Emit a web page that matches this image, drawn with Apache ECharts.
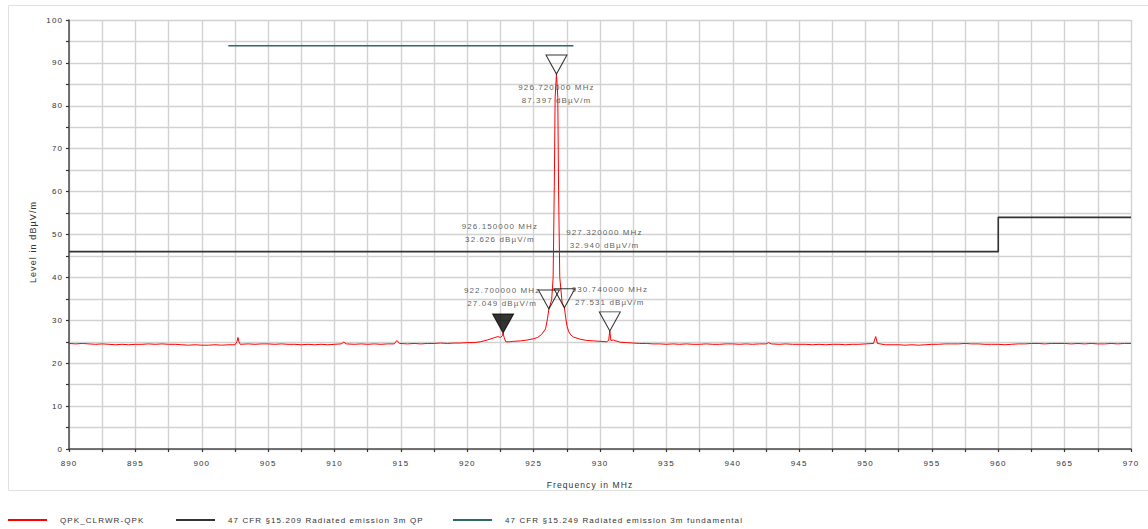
<!DOCTYPE html>
<html>
<head>
<meta charset="utf-8">
<script src="https://cdn.jsdelivr.net/npm/echarts@6/dist/echarts.min.js"></script>
<style>
html,body{margin:0;padding:0;background:#fff;}
#chart{width:1148px;height:529px;}
#chart text{letter-spacing:1.1px;}
</style>
</head>
<body>
<div id="chart"></div>
<script>
// ---- data ----
const traceFreq = [
890.0,890.5,891.0,891.5,892.0,892.5,893.0,893.5,894.0,894.5,895.0,895.5,896.0,896.5,897.0,897.5,898.0,898.5,899.0,899.5,
900.0,900.5,901.0,901.5,902.0,902.5,902.65,902.73,902.8,902.9,903.5,904.0,904.5,905.0,905.5,906.0,906.5,907.0,907.5,908.0,
908.5,909.0,909.5,910.0,910.5,910.7,910.9,911.5,912.0,912.5,913.0,913.5,914.0,914.5,914.7,914.9,915.5,916.0,916.5,917.0,
917.5,918.0,918.5,919.0,919.5,920.0,920.5,921.0,921.5,922.0,922.3,922.5,922.65,922.7,922.78,922.9,923.2,923.5,924.0,924.5,
925.0,925.3,925.6,925.9,926.05,926.15,926.36,926.47,926.56,926.62,926.72,926.82,926.88,926.97,927.15,927.32,927.42,927.52,927.65,927.8,
928.0,928.5,929.0,929.5,930.0,930.5,930.65,930.74,930.82,931.0,931.2,931.5,932.0,932.5,933.0,933.5,934.0,934.5,935.0,935.5,
936.0,936.5,937.0,937.5,938.0,938.5,939.0,939.5,940.0,940.5,941.0,941.5,942.0,942.5,942.7,942.9,943.5,944.0,944.5,945.0,
945.5,946.0,946.5,947.0,947.5,948.0,948.5,949.0,949.5,950.0,950.6,950.77,950.9,951.5,952.0,952.5,953.0,953.5,954.0,954.5,
955.0,955.5,956.0,956.5,957.0,957.5,958.0,958.5,959.0,959.5,960.0,960.5,961.0,961.5,962.0,962.5,963.0,963.5,964.0,964.5,
965.0,965.5,966.0,966.5,967.0,967.5,968.0,968.5,969.0,969.5,970.0
];
const traceLevel = [
24.6,24.5,24.6,24.5,24.4,24.5,24.4,24.3,24.4,24.3,24.4,24.4,24.5,24.4,24.5,24.4,24.4,24.3,24.2,24.3,
24.2,24.2,24.3,24.2,24.3,24.3,25.0,26.0,25.0,24.4,24.5,24.4,24.5,24.5,24.4,24.5,24.4,24.4,24.3,24.4,
24.3,24.4,24.3,24.4,24.5,24.9,24.5,24.4,24.5,24.4,24.5,24.4,24.5,24.5,25.3,24.6,24.5,24.6,24.5,24.6,
24.6,24.7,24.6,24.7,24.7,24.8,24.8,25.0,25.4,25.9,26.2,26.0,26.4,27.05,26.0,25.0,25.0,25.1,25.2,25.4,
25.7,26.0,26.7,28.0,30.5,32.63,34.8,40.0,62.0,82.0,87.4,82.0,60.0,40.0,34.0,32.94,30.5,28.6,27.3,26.6,
26.1,25.6,25.3,25.2,25.1,25.0,25.3,27.53,25.3,25.4,25.2,24.9,24.8,24.7,24.6,24.6,24.5,24.5,24.4,24.5,
24.4,24.5,24.4,24.4,24.5,24.4,24.4,24.5,24.5,24.4,24.5,24.4,24.5,24.5,24.8,24.5,24.4,24.5,24.4,24.4,
24.4,24.3,24.4,24.3,24.4,24.4,24.3,24.4,24.4,24.5,24.6,26.2,24.6,24.3,24.3,24.3,24.2,24.3,24.2,24.3,
24.4,24.4,24.5,24.5,24.5,24.6,24.5,24.5,24.4,24.4,24.4,24.3,24.4,24.5,24.5,24.6,24.6,24.5,24.6,24.6,
24.6,24.5,24.6,24.5,24.6,24.5,24.5,24.6,24.5,24.6,24.6
];
const qpLimitFreq = [890, 960, 960, 970];
const qpLimitLevel = [46, 46, 54, 54];
const fundLimitFreq = [902, 928];
const fundLimitLevel = [94, 94];
const markerFreq = [926.72, 926.15, 927.32, 922.70, 930.74];
const markerLevel = [87.397, 32.626, 32.940, 27.049, 27.531];
const markerFilled = [false, false, false, true, false];
const xTicks = [890,895,900,905,910,915,920,925,930,935,940,945,950,955,960,965,970];
const yTicks = [0,10,20,30,40,50,60,70,80,90,100];
const seriesNames = ['QPK_CLRWR-QPK', '47 CFR §15.209 Radiated emission 3m QP', '47 CFR §15.249 Radiated emission 3m fundamental'];
const xTitle = 'Frequency in MHz';
const yTitle = 'Level in dBµV/m';

// ---- layout / styles (not data) ----
const labelOffsets = [[0, 20], [-49, -76], [40, -69], [-1, -36], [0, -35]];
const legendLefts = [3, 171, 448];
const FONT = 'Liberation Sans, Arial, sans-serif';
const gridColor = '#d2d2d2';
const axisColor = '#4a4a4a';

const zip = (a, b) => a.map((v, i) => [v, b[i]]);

const chart = echarts.init(document.getElementById('chart'), null, {renderer: 'svg'});

const markerData = markerFreq.map((f, i) => ({
  value: [f, markerLevel[i]],
  itemStyle: {color: markerFilled[i] ? '#000' : 'rgba(0,0,0,0)', borderColor: '#000', borderWidth: 1}
}));
const labelData = markerFreq.map((f, i) => ({
  value: [f, markerLevel[i]],
  label: {
    show: true, position: 'inside', offset: labelOffsets[i],
    formatter: () => f.toFixed(6) + ' MHz\n' + markerLevel[i].toFixed(3) + ' dBµV/m'
  }
}));

const legends = seriesNames.map((n, i) => ({
  left: legendLefts[i], top: 511, itemWidth: 39, itemHeight: 12, itemGap: 0,
  icon: 'path://M0,0 L40,0 L40,2 L0,2 Z',
  textStyle: {fontFamily: FONT, fontSize: 8, color: '#333', padding: [0, 0, 0, 8]},
  data: [n]
}));

chart.setOption({
  animation: false,
  backgroundColor: '#fff',
  grid: {left: 69, right: 17, top: 20, bottom: 80, containLabel: false},
  legend: legends,
  xAxis: {
    type: 'value', min: 890, max: 970, interval: 5,
    axisLine: {show: true, onZero: false, lineStyle: {color: axisColor, width: 1.5}},
    axisTick: {show: true, length: 3, lineStyle: {color: '#333', width: 1.2}},
    minorTick: {show: true, splitNumber: 2, length: 3, lineStyle: {color: '#333', width: 1.2}},
    axisLabel: {fontFamily: FONT, fontSize: 8, color: '#333', margin: 10,
      formatter: v => xTicks.includes(v) ? String(v) : ''},
    splitLine: {show: true, lineStyle: {color: gridColor, width: 1.4}},
    minorSplitLine: {show: true, lineStyle: {color: gridColor, width: 1.4}}
  },
  yAxis: {
    type: 'value', min: 0, max: 100, interval: 10,
    axisLine: {show: true, onZero: false, lineStyle: {color: axisColor, width: 1.5}},
    axisTick: {show: true, length: 3, lineStyle: {color: '#333', width: 1.2}},
    minorTick: {show: true, splitNumber: 2, length: 3, lineStyle: {color: '#333', width: 1.2}},
    axisLabel: {fontFamily: FONT, fontSize: 8, color: '#333', margin: 6,
      formatter: v => yTicks.includes(v) ? String(v) : ''},
    splitLine: {show: true, lineStyle: {color: gridColor, width: 1.4}},
    minorSplitLine: {show: true, lineStyle: {color: gridColor, width: 1.4}}
  },
  graphic: [
    {type: 'rect', silent: true, z: -10, shape: {x: 8.5, y: 5.5, width: 1150, height: 485},
      style: {fill: 'none', stroke: '#e0e0e0', lineWidth: 1}},
    {type: 'text', x: 33, y: 242, rotation: Math.PI / 2,
      style: {text: yTitle, font: '9px ' + FONT, fill: '#333', align: 'center', verticalAlign: 'middle'}},
    {type: 'text', x: 590, y: 485,
      style: {text: xTitle, font: '8.5px ' + FONT, fill: '#333', align: 'center', verticalAlign: 'middle'}}
  ],
  series: [
    {name: seriesNames[0], type: 'line', data: zip(traceFreq, traceLevel), symbol: 'none',
      lineStyle: {color: '#ff0000', width: 1}, itemStyle: {color: '#ff0000'}, z: 3},
    {name: seriesNames[1], type: 'line', data: zip(qpLimitFreq, qpLimitLevel), symbol: 'none',
      lineStyle: {color: '#333', width: 1.6}, itemStyle: {color: '#333'}, z: 2},
    {name: seriesNames[2], type: 'line', data: zip(fundLimitFreq, fundLimitLevel), symbol: 'none',
      lineStyle: {color: '#2f6868', width: 1.6}, itemStyle: {color: '#2f6868'}, z: 2},
    {type: 'scatter', data: markerData, symbol: 'path://M0,0 L21,0 L10.5,19 Z',
      symbolSize: [21, 19], symbolOffset: [0, -9.5], z: 5, silent: true},
    {type: 'scatter', data: labelData, symbol: 'circle', symbolSize: 1,
      itemStyle: {color: 'rgba(0,0,0,0)'}, z: 6, silent: true,
      label: {fontFamily: FONT, fontSize: 8, color: '#333', lineHeight: 13, align: 'center'}}
  ]
});
</script>
</body>
</html>
